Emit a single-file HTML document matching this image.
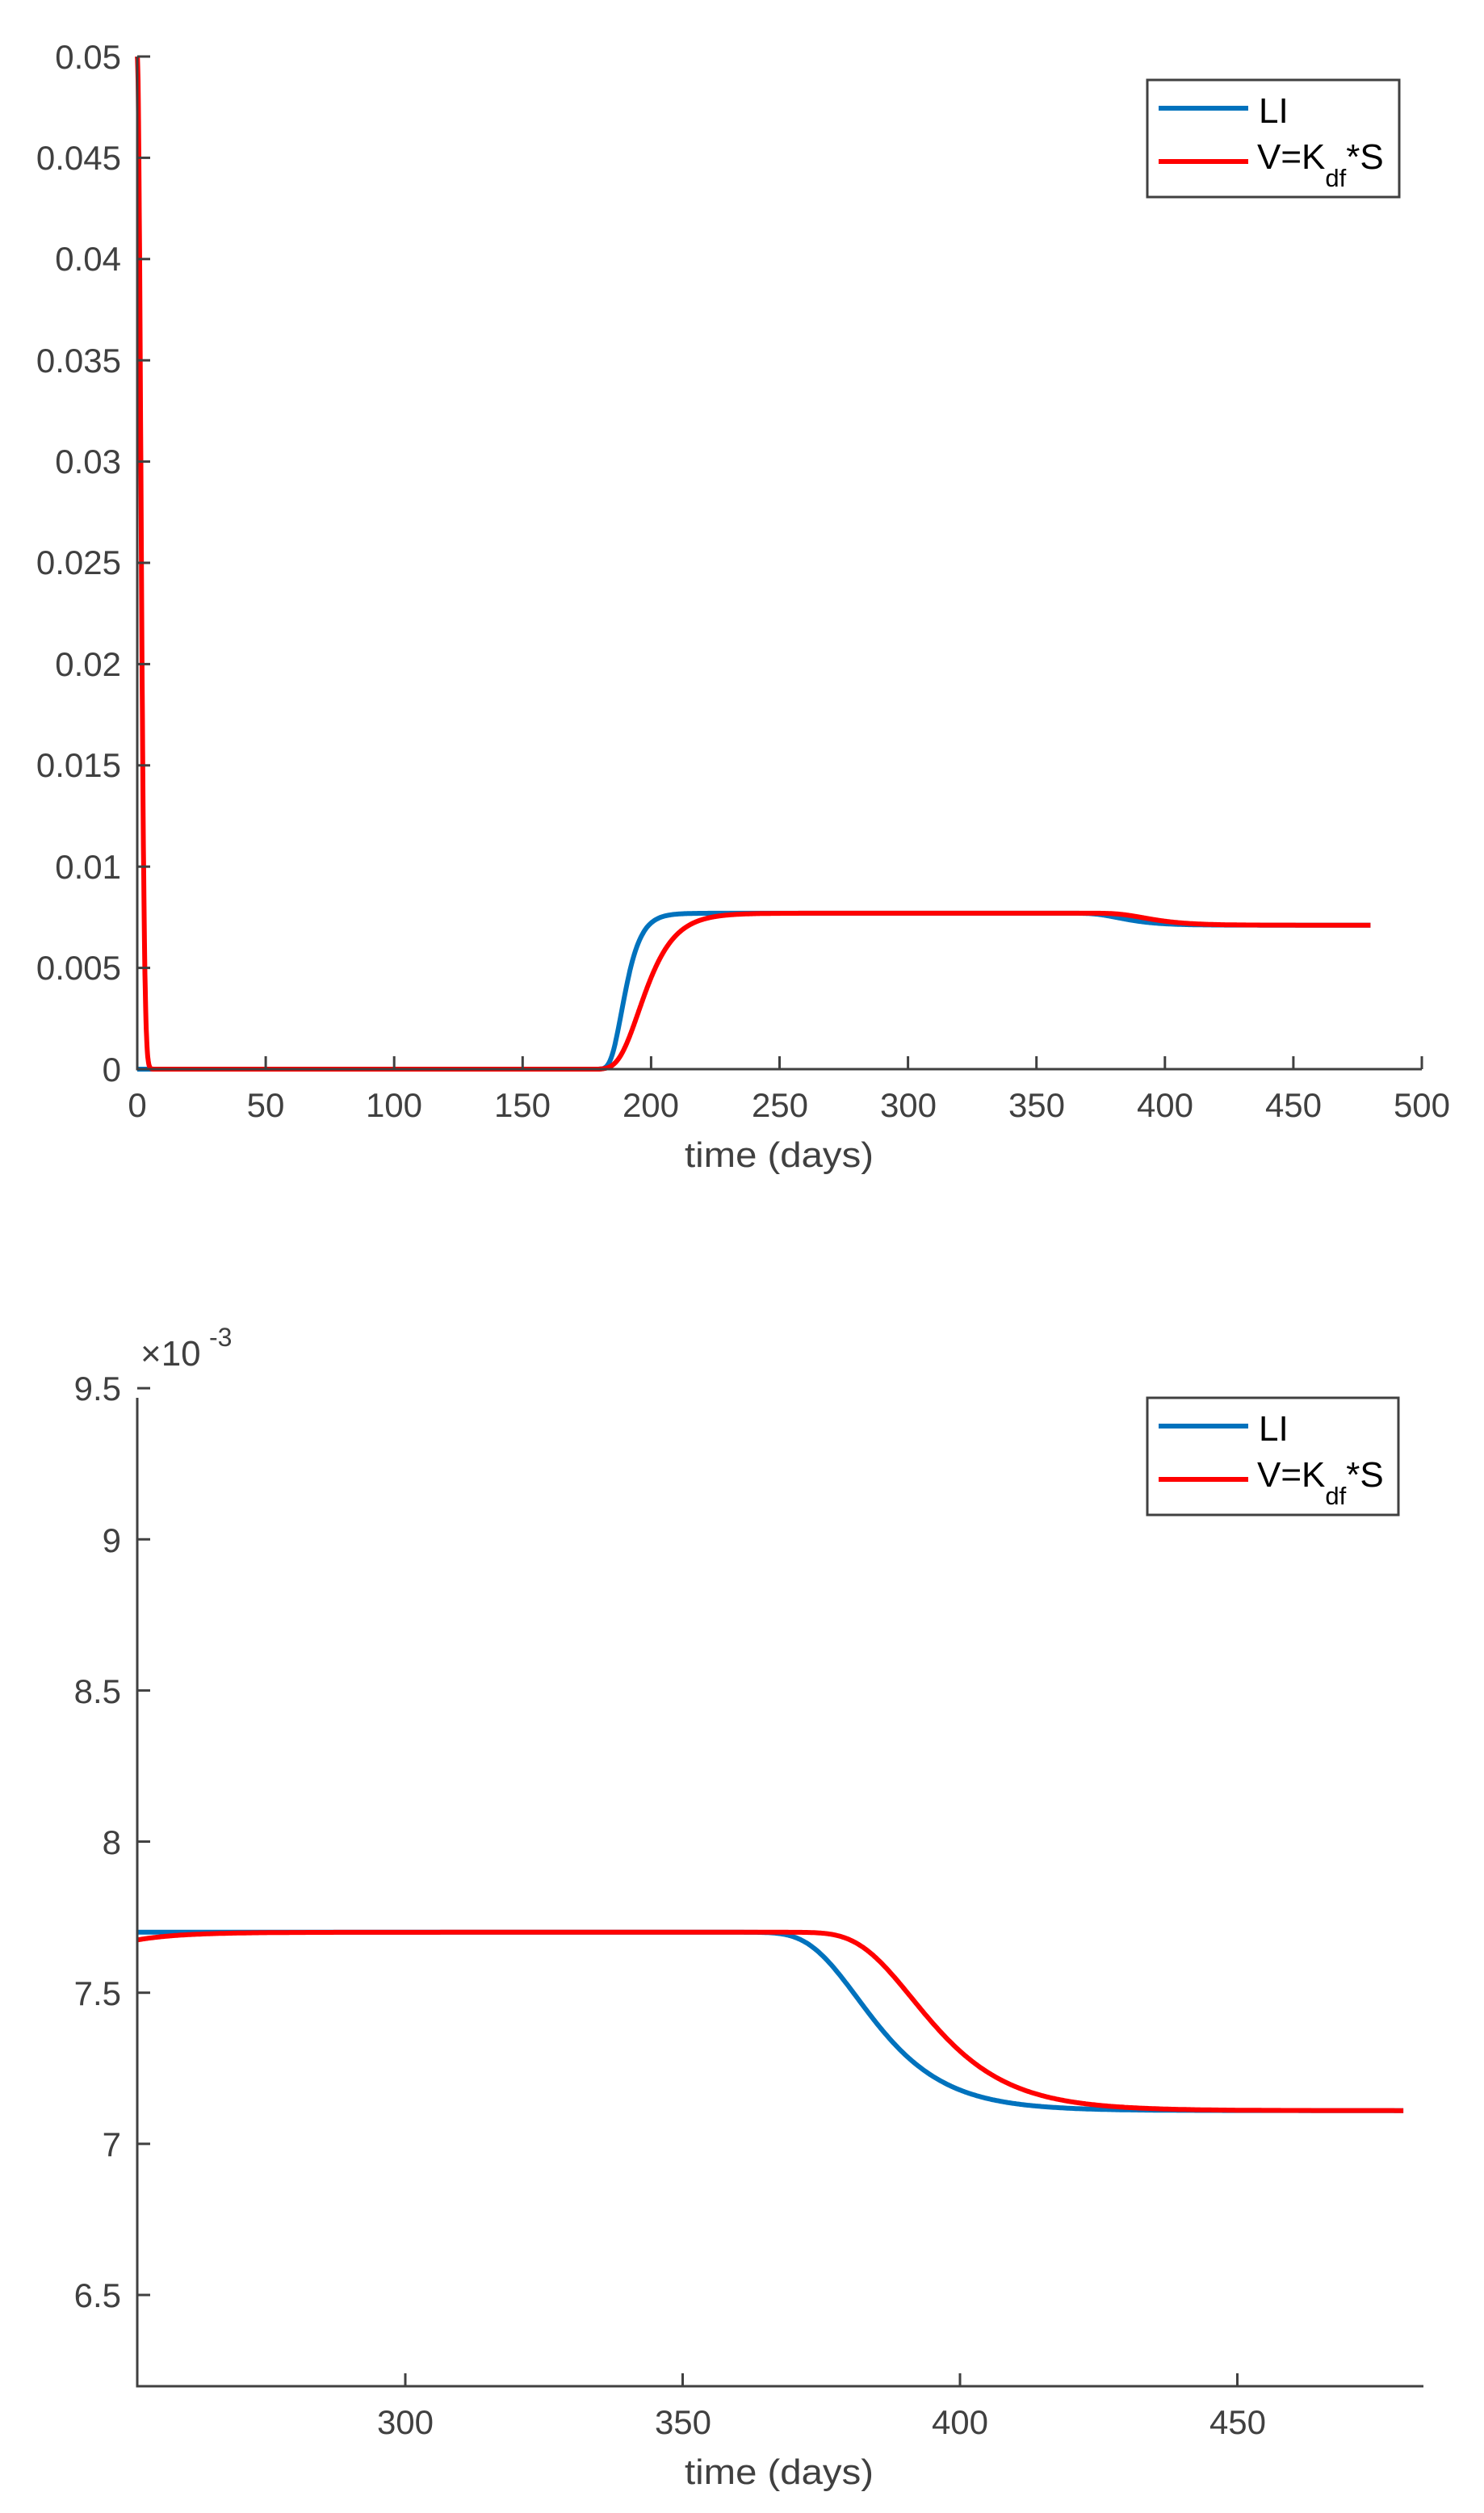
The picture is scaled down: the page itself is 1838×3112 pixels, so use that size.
<!DOCTYPE html>
<html><head><meta charset="utf-8"><style>
html,body{margin:0;padding:0;background:#fff;}
svg{display:block;}
text{font-family:"Liberation Sans",Arial,sans-serif;}
</style></head><body>
<svg id="s" width="1838" height="3112" viewBox="0 0 1838 3112" xmlns="http://www.w3.org/2000/svg">
<rect width="1838" height="3112" fill="#fff"/>
<g id="top"></g>
<g id="bot"></g>
<g stroke="#404040" stroke-width="3" fill="none">
<path d="M170,70 V1324 H1761"/>
<path d="M170,1731 V2955 H1763"/>
</g>
<g font-size="42" fill="#404040" text-anchor="end">
<text x="150" y="1339">0</text>
<text x="150" y="1213">0.005</text>
<text x="150" y="1088">0.01</text>
<text x="150" y="962">0.015</text>
<text x="150" y="837">0.02</text>
<text x="150" y="711">0.025</text>
<text x="150" y="586">0.03</text>
<text x="150" y="461">0.035</text>
<text x="150" y="335">0.04</text>
<text x="150" y="210">0.045</text>
<text x="150" y="85">0.05</text>
</g>
<g font-size="42" fill="#404040" text-anchor="middle">
<text x="170" y="1383">0</text>
<text x="329" y="1383">50</text>
<text x="488" y="1383">100</text>
<text x="647" y="1383">150</text>
<text x="806" y="1383">200</text>
<text x="966" y="1383">250</text>
<text x="1125" y="1383">300</text>
<text x="1284" y="1383">350</text>
<text x="1443" y="1383">400</text>
<text x="1602" y="1383">450</text>
<text x="1761" y="1383">500</text>
<text x="965" y="1445" font-size="44" textLength="234" lengthAdjust="spacingAndGlyphs">time (days)</text>
</g>
<g font-size="42" fill="#404040" text-anchor="end">
<text x="150" y="2857">6.5</text>
<text x="150" y="2670">7</text>
<text x="150" y="2483">7.5</text>
<text x="150" y="2296">8</text>
<text x="150" y="2109">8.5</text>
<text x="150" y="1922">9</text>
<text x="150" y="1734">9.5</text>
</g>
<g font-size="42" fill="#404040" text-anchor="middle">
<text x="502" y="3014">300</text>
<text x="846" y="3014">350</text>
<text x="1189" y="3014">400</text>
<text x="1533" y="3014">450</text>
<text x="965" y="3076" font-size="44" textLength="234" lengthAdjust="spacingAndGlyphs">time (days)</text>
</g>
<g fill="#404040">
<text x="174" y="1691" font-size="44">×10</text>
<text x="259" y="1667" font-size="32">-3</text>
</g>
<g id="ticks" stroke="#404040" stroke-width="3"></g>
<g>
<rect x="1421" y="99" width="312" height="145" fill="#fff" stroke="#404040" stroke-width="3"/>
<line x1="1435" y1="134" x2="1546" y2="134" stroke="#0072BD" stroke-width="6"/>
<line x1="1435" y1="200" x2="1546" y2="200" stroke="#FF0000" stroke-width="6"/>
<text x="1559" y="152" font-size="44" fill="#000">LI</text>
<text x="1557" y="209" font-size="44" fill="#000">V=K<tspan font-size="31" dy="22">df</tspan><tspan dy="-22">*S</tspan></text>
</g>
<g>
<rect x="1421" y="1731" width="311" height="145" fill="#fff" stroke="#404040" stroke-width="3"/>
<line x1="1435" y1="1766" x2="1546" y2="1766" stroke="#0072BD" stroke-width="6"/>
<line x1="1435" y1="1832" x2="1546" y2="1832" stroke="#FF0000" stroke-width="6"/>
<text x="1559" y="1784" font-size="44" fill="#000">LI</text>
<text x="1557" y="1841" font-size="44" fill="#000">V=K<tspan font-size="31" dy="22">df</tspan><tspan dy="-22">*S</tspan></text>
</g>
</svg>
<script>
(function(){
var NS="http://www.w3.org/2000/svg";
function el(p,n,a){var e=document.createElementNS(NS,n);for(var k in a)e.setAttribute(k,a[k]);p.appendChild(e);return e;}
var tk=document.getElementById('ticks');
for(var i=0;i<=10;i++){var x=170+i*159.1;el(tk,'line',{x1:x,y1:1324,x2:x,y2:1308});var y=1324-i*125.4;el(tk,'line',{x1:170,y1:y,x2:186,y2:y});}
[300,350,400,450].forEach(function(t){var x=502+(t-300)*6.87;el(tk,'line',{x1:x,y1:2955,x2:x,y2:2939});});
[6.5,7,7.5,8,8.5,9,9.5].forEach(function(v){var y=2842-(v-6.5)*374.3;el(tk,'line',{x1:170,y1:y,x2:186,y2:y});});
function gomp(t,t0,w){return Math.exp(-Math.exp(-(t-t0)/w));}
function drop(t,t0,w){return 1-Math.exp(-Math.exp(-(t-t0)/w));}
function blue(t){
  if(t<178) return 0;
  var r=gomp(t,188.5,4.2);
  return 7.11*r+0.59*r*drop(t,381.5,8.83);
}
function red(t){
  var s=50*Math.exp(-Math.pow(t/1.95,2));
  var r=(t<180)?0:gomp(t,195.1,7.8);
  return s+7.11*r+0.59*r*drop(t,391.3,9.67);
}
function redB(t){var base=red(t);var e=-0.02*Math.exp(-(t-251.7)/8);return base+e;}
var top=document.getElementById('top'),bot=document.getElementById('bot');
function path(g,f,t0,t1,dt,X,Y,col){var d='';for(var t=t0;t<=t1+1e-9;t+=dt){var v=f(t);d+=(d?'L':'M')+X(t).toFixed(1)+','+Y(v).toFixed(1);}el(g,'path',{d:d,fill:'none',stroke:col,'stroke-width':6,'stroke-linejoin':'round'});}
var XT=function(t){return 170+t*3.182;},YT=function(v){return 1324-v*25.08;};
path(top,blue,0,480,0.25,XT,YT,'#0072BD');
path(top,red,0,480,0.1,XT,YT,'#FF0000');
var XB=function(t){return 170+(t-251.7)*6.87;},YB=function(v){return 2842-(v-6.5)*374.3;};
path(bot,blue,251.7,480,0.25,XB,YB,'#0072BD');
path(bot,redB,251.7,480,0.25,XB,YB,'#FF0000');
})();
</script>
</body></html>
